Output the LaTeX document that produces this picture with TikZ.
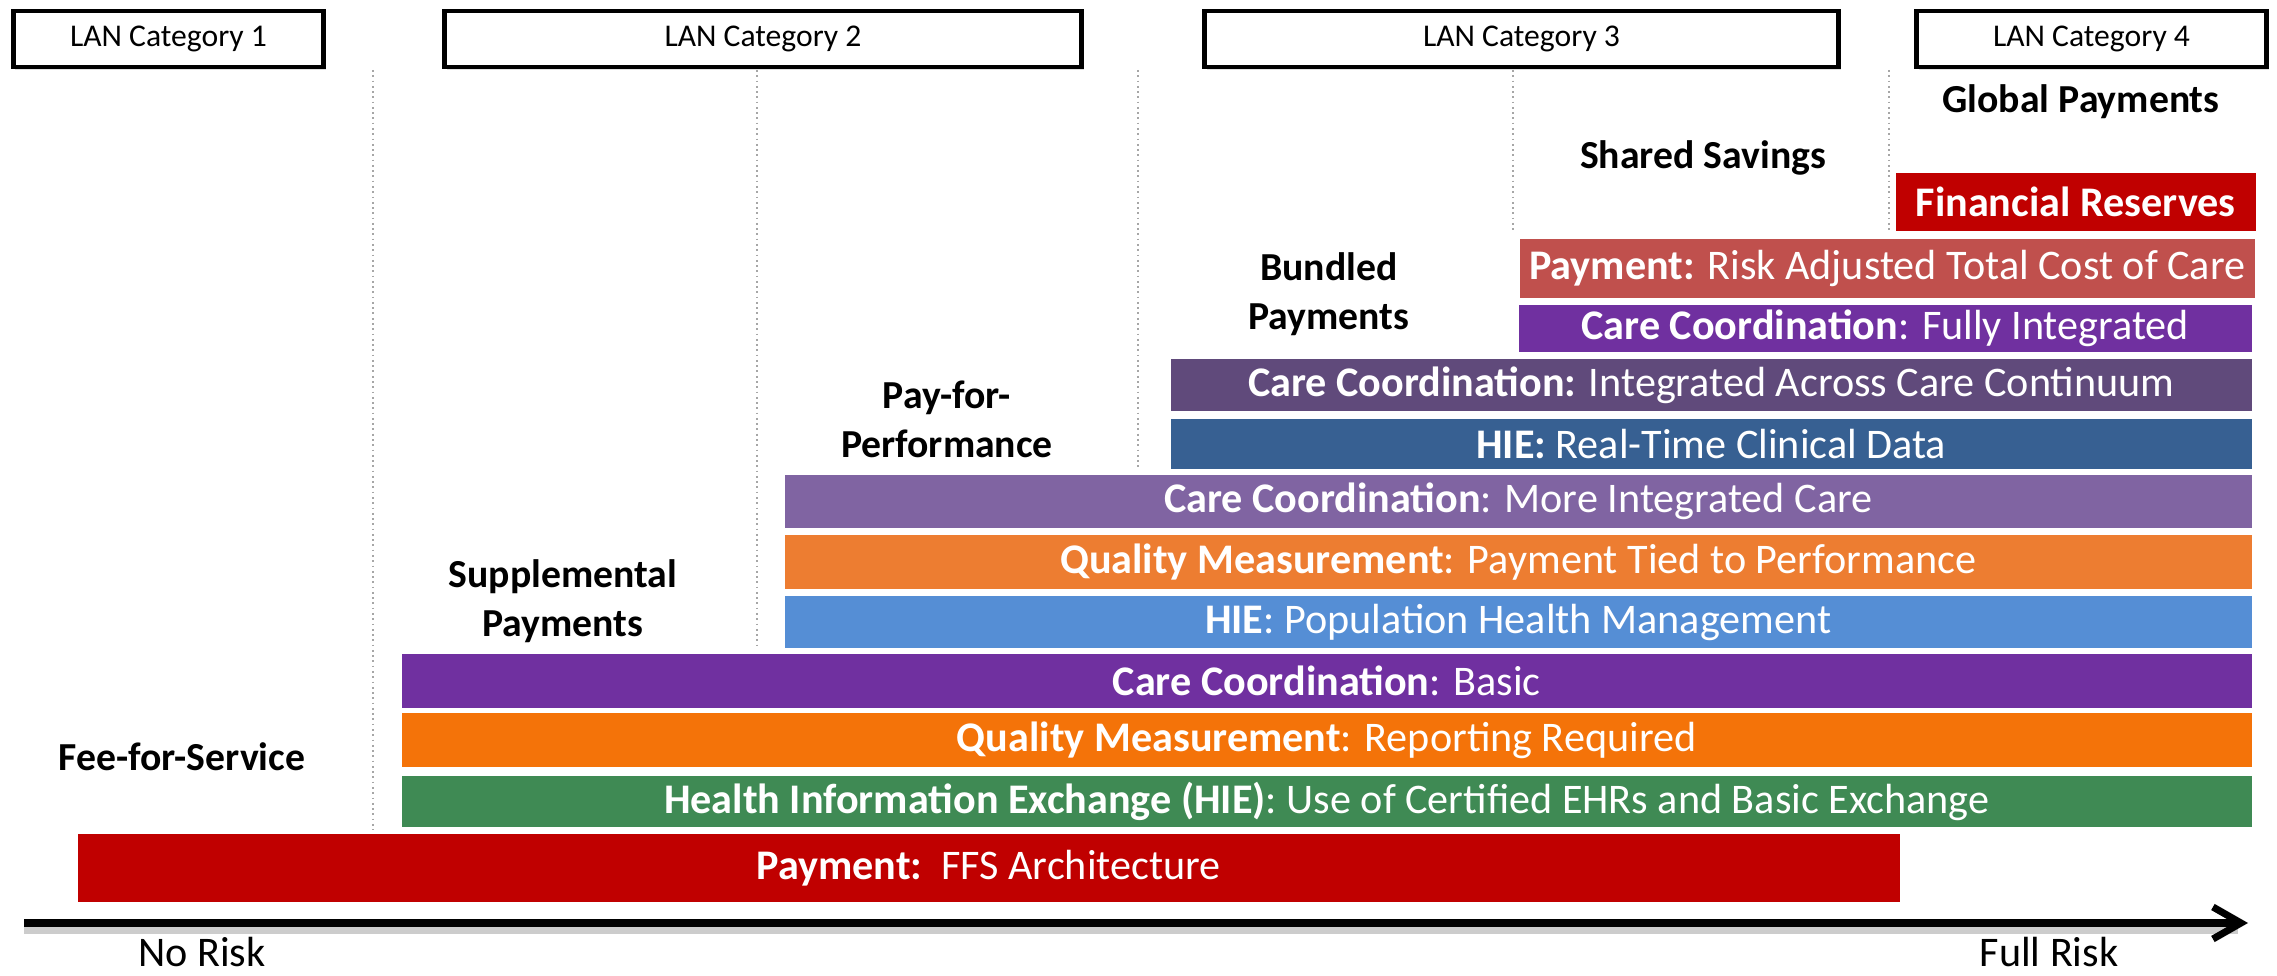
\documentclass[tikz,border=0pt]{standalone}
\usepackage{fontspec}
\setmainfont{Carlito}
\usepackage{xcolor}
\usetikzlibrary{positioning,arrows.meta,shadows}

\definecolor{ffsred}{HTML}{C00000}
\definecolor{hiegreen}{HTML}{3F8A54}
\definecolor{qmorange}{HTML}{F47309}
\definecolor{ccpurple}{HTML}{7030A0}
\definecolor{hieblue}{HTML}{558ED5}
\definecolor{qmlight}{HTML}{ED7D31}
\definecolor{cclilac}{HTML}{8064A2}
\definecolor{hiesteel}{HTML}{376092}
\definecolor{ccdark}{HTML}{604A7B}
\definecolor{payrose}{HTML}{C0504D}

\begin{document}
\begin{tikzpicture}[
    bar/.style={rectangle, anchor=south west, inner sep=0pt, text=white, font=\fontsize{12}{14}\selectfont},
    cat/.style={rectangle, draw, fill=white, line width=1.4pt, minimum height=0.56cm, font=\fontsize{9}{11}\selectfont,
        drop shadow={shadow xshift=0.02cm, shadow yshift=-0.03cm, opacity=0.25}},
    model/.style={font=\bfseries\fontsize{11.3}{14}\selectfont, align=center},
    risk/.style={font=\fontsize{12}{14}\selectfont, anchor=base, inner sep=0pt},
    divider/.style={gray!70, densely dotted, line width=0.5pt},
    axis/.style={line width=2pt, -{Straight Barb[length=0.28cm, width=0.32cm, line width=2pt]}}]

    \useasboundingbox (0,0) rectangle (22.77,9.76);

    % LAN categories
    \node[cat, minimum width=3.1cm] (cat1) at (1.685,9.37) {LAN Category 1};
    \node[cat, minimum width=6.37cm] (cat2) at (7.63,9.37) {LAN Category 2};
    \node[cat, minimum width=6.34cm] (cat3) at (15.215,9.37) {LAN Category 3};
    \node[cat, minimum width=3.5cm] (cat4) at (20.915,9.37) {LAN Category 4};

    % Dividers between payment models
    \draw[divider] (3.73,9.06) -- (3.73,1.46);
    \draw[divider] (7.57,9.06) -- (7.57,3.27);
    \draw[divider] (11.38,9.06) -- (11.38,5.06);
    \draw[divider] (15.13,9.06) -- (15.13,7.44);
    \draw[divider] (18.89,9.06) -- (18.89,7.44);

    % Payment models
    \node[model] (ffslbl) at (1.82,2.19) {Fee-for-Service};
    \node[model] (supp) at (5.63,3.75) {Supplemental\\Payments};
    \node[model] (p4p) at (9.47,5.57) {Pay-for-\\Performance};
    \node[model] (bundled) at (13.29,6.82) {Bundled\\Payments};
    \node[model] (shared) at (17.03,8.18) {Shared Savings};
    \node[model] (global) at (20.81,8.74) {Global Payments};

    % Building blocks
    \node[bar, fill=ffsred, minimum width=18.22cm, minimum height=0.68cm] (ffs) at (0.77,0.73) {\textbf{Payment:}\ \ FFS Architecture};
    \node[bar, fill=hiegreen, minimum width=18.5cm, minimum height=0.51cm] (hie1) at (4.01,1.48) {\textbf{Health Information Exchange (HIE)}: Use of Certified EHRs and Basic Exchange};
    \node[bar, fill=qmorange, minimum width=18.5cm, minimum height=0.54cm] (qm1) at (4.01,2.08) {\textbf{Quality Measurement}: Reporting Required};
    \node[bar, fill=ccpurple, minimum width=18.5cm, minimum height=0.54cm] (cc1) at (4.01,2.67) {\textbf{Care Coordination}: Basic};
    \node[bar, fill=hieblue, minimum width=14.67cm, minimum height=0.52cm] (hie2) at (7.84,3.27) {\textbf{HIE}: Population Health Management};
    \node[bar, fill=qmlight, minimum width=14.67cm, minimum height=0.54cm] (qm2) at (7.84,3.86) {\textbf{Quality Measurement}: Payment Tied to Performance};
    \node[bar, fill=cclilac, minimum width=14.67cm, minimum height=0.53cm] (cc2) at (7.84,4.47) {\textbf{Care Coordination}: More Integrated Care};
    \node[bar, fill=hiesteel, minimum width=10.81cm, minimum height=0.5cm] (hie3) at (11.7,5.06) {\textbf{HIE:} Real-Time Clinical Data};
    \node[bar, fill=ccdark, minimum width=10.81cm, minimum height=0.52cm] (cc3) at (11.7,5.64) {\textbf{Care Coordination:} Integrated Across Care Continuum};
    \node[bar, fill=ccpurple, minimum width=7.33cm, minimum height=0.47cm] (cc4) at (15.18,6.23) {\textbf{Care Coordination}: Fully Integrated};
    \node[bar, fill=payrose, minimum width=7.35cm, minimum height=0.59cm] (pay2) at (15.19,6.77) {\textbf{Payment:} Risk Adjusted Total Cost of Care};
    \node[bar, fill=ffsred, minimum width=3.6cm, minimum height=0.58cm] (reserves) at (18.95,7.44) {\textbf{Financial Reserves}};

    % Risk axis
    \coordinate (a0) at (0.24,0.53);
    \coordinate (a1) at (22.48,0.53);
    \draw[line width=3pt, black!20, shorten >=0.1cm] ([yshift=-0.06cm]a0) -- ([yshift=-0.06cm]a1);
    \draw[axis] (a0) -- (a1);
    \node[risk] (norisk) at (2.02,0.09) {No Risk};
    \node[risk] (fullrisk) at (20.49,0.09) {Full Risk};

\end{tikzpicture}
\end{document}
